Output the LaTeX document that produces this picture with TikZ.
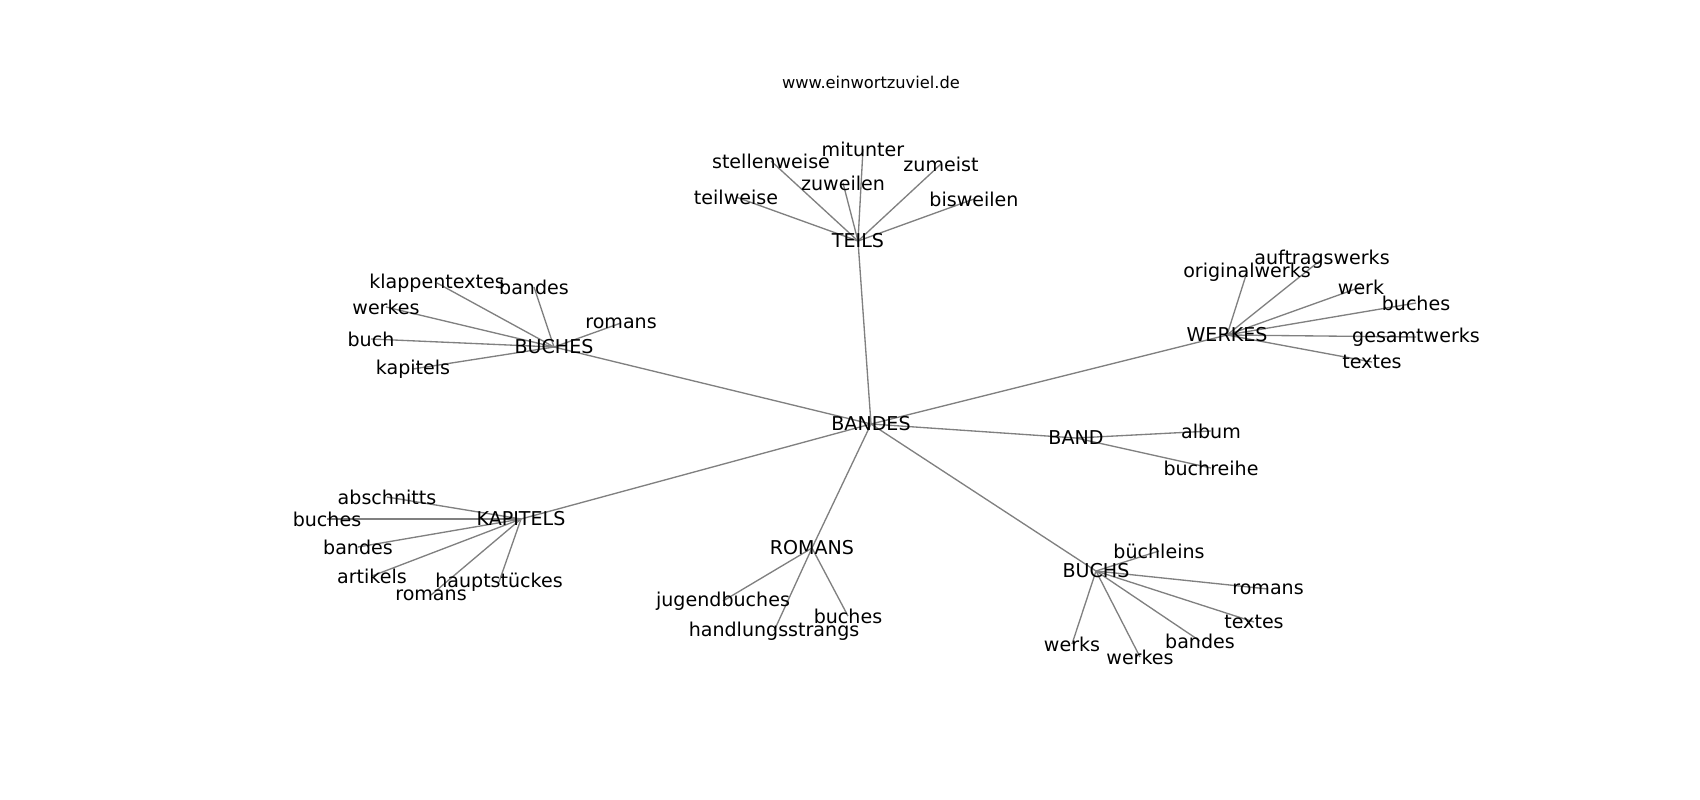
\documentclass[tikz,border=0pt]{standalone}
\usepackage{fontspec}
\setmainfont{DejaVu Sans}
\usetikzlibrary{backgrounds}

\tikzset{every picture/.style={line width=0.75pt}}
\tikzset{
  word/.style={font=\fontsize{14.3}{17}\selectfont, inner sep=0pt},
  link/.style={draw={rgb, 255:red, 128; green, 128; blue, 128}, line width=1pt}
}

\begin{document}
\begin{tikzpicture}[x=0.75pt,y=0.75pt,yscale=-1,xscale=1]
	\useasboundingbox (0,0) rectangle (1700,800); %diagram has width 1700 and height 800

	% Text Node
	\node [font=\fontsize{12.2}{14}\selectfont, inner sep=0pt] (title) at (871,82) {www.einwortzuviel.de};

	% Text Node: centre
	\node [word] (bandes) at (871,424) {BANDES};
	% Text Node: hubs
	\node [word] (teils) at (858,241) {TEILS};
	\node [word] (buches) at (554,347) {BUCHES};
	\node [word] (werkes) at (1227,335) {WERKES};
	\node [word] (band) at (1076,438) {BAND};
	\node [word] (kapitels) at (521,519) {KAPITELS};
	\node [word] (romans) at (812,548) {ROMANS};
	\node [word] (buchs) at (1096,571) {BUCHS};

	% Text Node: TEILS
	\node [word] (teilweise) at (736,197) {teilweise};
	\node [word] (stellenweise) at (771,161) {stellenweise};
	\node [word] (mitunter) at (863,149) {mitunter};
	\node [word] (zuweilen) at (843,183) {zuweilen};
	\node [word] (zumeist) at (941,164) {zumeist};
	\node [word] (bisweilen) at (974,199) {bisweilen};

	% Text Node: BUCHES
	\node [word] (klappentextes) at (437,283) {klappentextes};
	\node [word] (bandesA) at (534,287) {bandes};
	\node [word] (werkesA) at (386,307) {werkes};
	\node [word] (romansA) at (621,323) {romans};
	\node [word] (buch) at (371,339) {buch};
	\node [word] (kapitelsA) at (413,369) {kapitels};

	% Text Node: WERKES
	\node [word] (originalwerks) at (1247,272) {originalwerks};
	\node [word] (auftragswerks) at (1322,259) {auftragswerks};
	\node [word] (werk) at (1361,287) {werk};
	\node [word] (buchesW) at (1416,303) {buches};
	\node [word] (gesamtwerks) at (1416,337) {gesamtwerks};
	\node [word] (textesW) at (1372,362) {textes};

	% Text Node: BAND
	\node [word] (album) at (1211,431) {album};
	\node [word] (buchreihe) at (1211,468) {buchreihe};

	% Text Node: KAPITELS
	\node [word] (abschnitts) at (387,497) {abschnitts};
	\node [word] (buchesK) at (327,519) {buches};
	\node [word] (bandesK) at (358,547) {bandes};
	\node [word] (artikels) at (372,576) {artikels};
	\node [word] (romansK) at (431,595) {romans};
	\node [word] (hauptstueckes) at (499,582) {hauptstückes};

	% Text Node: ROMANS
	\node [word] (jugendbuches) at (723,601) {jugendbuches};
	\node [word] (handlungsstrangs) at (774,631) {handlungsstrangs};
	\node [word] (buchesR) at (848,616) {buches};

	% Text Node: BUCHS
	\node [word] (buechleins) at (1159,551) {büchleins};
	\node [word] (romansB) at (1268,589) {romans};
	\node [word] (textesB) at (1254,622) {textes};
	\node [word] (bandesB) at (1200,641) {bandes};
	\node [word] (werkesB) at (1140,657) {werkes};
	\node [word] (werks) at (1072,644) {werks};

	\begin{pgfonlayer}{background}
	%Straight Lines: centre to hubs
	\foreach \hub in {teils,buches,werkes,band,kapitels,romans,buchs}
		\draw [link] (bandes.center) -- (\hub.center) ;
	%Straight Lines: leaves
	\foreach \leaf in {teilweise,stellenweise,mitunter,zuweilen,zumeist,bisweilen}
		\draw [link] (teils.center) -- (\leaf.center) ;
	\foreach \leaf in {klappentextes,bandesA,werkesA,romansA,buch,kapitelsA}
		\draw [link] (buches.center) -- (\leaf.center) ;
	\foreach \leaf in {originalwerks,auftragswerks,werk,buchesW,gesamtwerks,textesW}
		\draw [link] (werkes.center) -- (\leaf.center) ;
	\foreach \leaf in {album,buchreihe}
		\draw [link] (band.center) -- (\leaf.center) ;
	\foreach \leaf in {abschnitts,buchesK,bandesK,artikels,romansK,hauptstueckes}
		\draw [link] (kapitels.center) -- (\leaf.center) ;
	\foreach \leaf in {jugendbuches,handlungsstrangs,buchesR}
		\draw [link] (romans.center) -- (\leaf.center) ;
	\foreach \leaf in {buechleins,romansB,textesB,bandesB,werkesB,werks}
		\draw [link] (buchs.center) -- (\leaf.center) ;
	\end{pgfonlayer}

\end{tikzpicture}
\end{document}
